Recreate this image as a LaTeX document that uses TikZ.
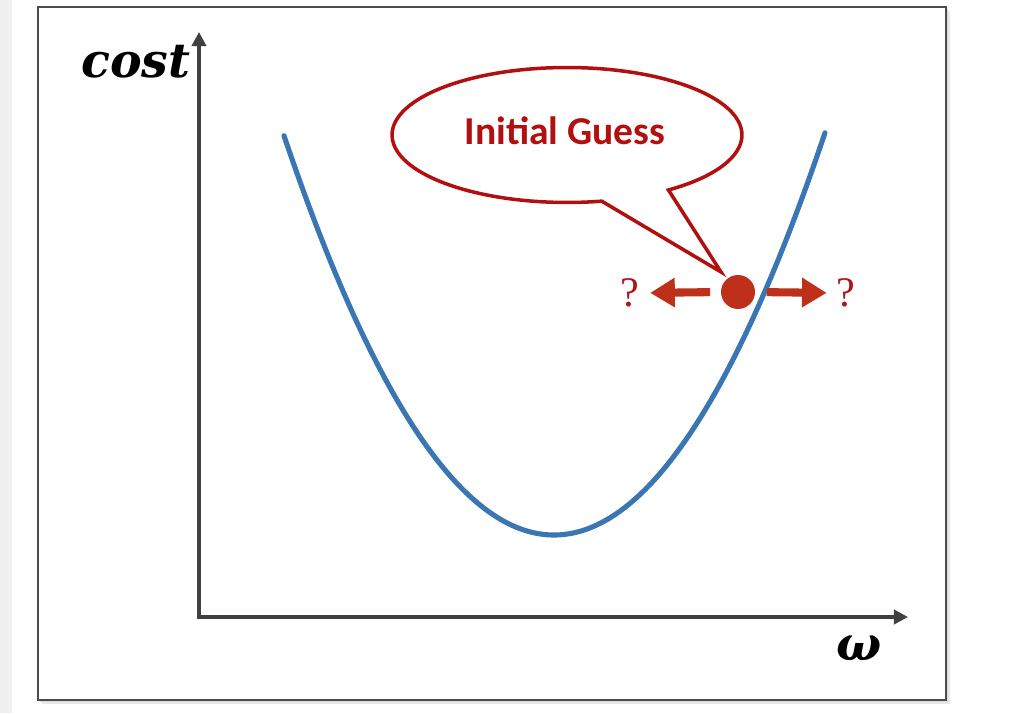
\documentclass[tikz,border=0pt]{standalone}
\usepackage{fontspec}
\usepackage{amsmath,amssymb}
\setsansfont{Carlito}
\newfontfamily\labelfont{DejaVu Serif}
\newfontfamily\qfont{Liberation Serif}
\usetikzlibrary{arrows.meta,positioning,calc,shapes.callouts}
\definecolor{axisgray}{RGB}{64,64,64}
\definecolor{curveblue}{RGB}{58,118,178}
\definecolor{calloutred}{RGB}{178,16,16}
\definecolor{dotred}{RGB}{190,48,26}
\definecolor{qred}{RGB}{168,22,30}

\begin{document}
\begin{tikzpicture}[x=0.02cm,y=-0.02cm,
  axis/.style={draw=axisgray,line width=2.3pt,-{Triangle[length=8pt,width=8pt]}},
  fatarrow/.style={draw=dotred,line width=4.6pt,-{Triangle[length={14pt 0},width={16pt 0}]}},
  qmark/.style={text=qred,font=\qfont\fontsize{24}{28}\selectfont,inner sep=0pt}]
\useasboundingbox (0,0) rectangle (1010,713);
\fill[gray!12] (0,0) rectangle (12,713);
% frame with a soft shadow
\fill[gray!18] (42,11) rectangle (950,704);
\fill[gray!30] (40,9) rectangle (948,702);
\draw[gray!60!black,fill=white,line width=0.8pt] (38,7) rectangle (946,700);
% axes
\coordinate (origin) at (199,617);
\coordinate (ytop) at (199,32);
\coordinate (xend) at (908,617);
\draw[axis] ([yshift=-1.15pt]origin) -- (ytop);
\draw[axis] ([xshift=-1.15pt]origin) -- (xend);
\node[font=\labelfont\bfseries\itshape\fontsize{27}{32}\selectfont] (costlbl) at (136,62) {cost};
\node[font=\labelfont\bfseries\itshape\fontsize{27}{32}\selectfont] (wlbl) at (859,648) {ω};
% cost curve
\draw[curveblue,line width=2.9pt,line cap=round]
  plot[domain=284:825,samples=90,smooth] (\x,{535-(0.074*(\x-554))^2});
% initial guess
\node[circle,fill=dotred,minimum size=0.68cm,inner sep=0pt] (dot) at (738,292) {};
\node[ellipse callout,draw=calloutred,line width=2pt,fill=white,
  minimum width=7cm,minimum height=2.7cm,
  callout absolute pointer={(721,272)},callout pointer arc=24] (guess) at (567,135) {};
\node[text=calloutred,font=\sffamily\bfseries\fontsize{22.5}{27}\selectfont] (guesstxt) at (565,131) {Initial Guess};
\node[qmark] (qleft) at (630,293) {?};
\node[qmark] (qright) at (846,293) {?};
\draw[fatarrow,shorten <=6pt,shorten >=6pt] (dot.west) -- (qleft.east);
\draw[fatarrow,shorten <=6.5pt,shorten >=5.5pt] (dot.east) -- (qright.west);
\end{tikzpicture}
\end{document}
